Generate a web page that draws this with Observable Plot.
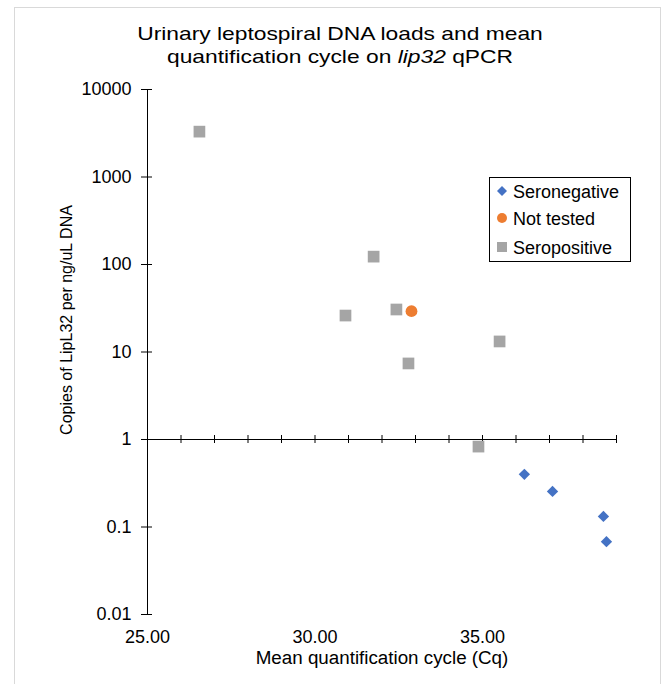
<!DOCTYPE html>
<html>
<head>
<meta charset="utf-8">
<script src="https://cdn.jsdelivr.net/npm/d3@7"></script>
<script src="https://cdn.jsdelivr.net/npm/@observablehq/plot@0.6"></script>
<style>
  html, body { margin: 0; padding: 0; background: #fff; }
  #wrap { position: relative; width: 665px; height: 684px; overflow: hidden; padding-top: 80px; box-sizing: border-box;
          font-family: "Liberation Sans", Arial, sans-serif; }
  #border { position: absolute; left: 14px; top: 7px; width: 647px; height: 700px; border: 1px solid #d9d9d9; box-sizing: border-box; }
  #title { position: absolute; left: 0; top: 22px; width: 680px; text-align: center; font-size: 19px; line-height: 23px; color: #000;
           transform: scaleX(1.2); transform-origin: 340px 0; }
  #legend { position: absolute; left: 489px; top: 177px; width: 142px; height: 85px; border: 1px solid #000; box-sizing: border-box; background: #fff; }
  .item { position: absolute; left: 0; height: 24px; font-size: 18px; line-height: 24px; color: #000; white-space: nowrap; }
  .item svg { position: absolute; left: 7px; top: 6px; }
  .item span { position: absolute; left: 23px; top: 0; }
  #plot svg { display: block; }
</style>
</head>
<body>
<div id="wrap">
  <div id="border"></div>
  <div id="title"></div>
  <div id="plot"></div>
  <div id="legend"></div>
</div>
<script>
// ---- data ----
const seriesNames = ["Seronegative", "Not tested", "Seropositive"];
const seriesColors = ["#4472C4", "#ED7D31", "#A5A5A5"];

const seronegativeCq   = [36.25, 37.09, 38.61, 38.70];
const seronegativeLoad = [0.40, 0.255, 0.132, 0.068];

const notTestedCq   = [32.88];
const notTestedLoad = [29.3];

const seropositiveCq   = [26.55, 31.75, 30.91, 32.43, 32.79, 35.51, 34.88];
const seropositiveLoad = [3300, 123, 26.1, 30.6, 7.4, 13.2, 0.83];

const xMinorTicks = [25, 26, 27, 28, 29, 30, 31, 32, 33, 34, 35, 36, 37, 38, 39];
const xLabelTicks = [25, 30, 35];
const yTicks = [0.01, 0.1, 1, 10, 100, 1000, 10000];
const xDomain = [25, 39];
const yDomain = [0.01, 10000];
const xCross = 1;      // horizontal axis crosses at y = 1
const yCross = 25;     // vertical axis at x = 25

const titleLine1 = "Urinary leptospiral DNA loads and mean";
const titleLine2a = "quantification cycle on ";
const titleLine2b = "lip32";
const titleLine2c = " qPCR";
const xTitle = "Mean quantification cycle (Cq)";
const yTitle = "Copies of LipL32 per ng/uL DNA";

// ---- tables ----
const rows = (xs, ys) => xs.map((x, i) => ({cq: x, load: ys[i]}));
const seronegative = rows(seronegativeCq, seronegativeLoad);
const notTested = rows(notTestedCq, notTestedLoad);
const seropositive = rows(seropositiveCq, seropositiveLoad);
const xTickRows = xMinorTicks.map(v => ({v, at: xCross}));
const yTickRows = yTicks.map(v => ({v, at: yCross}));

// ---- title ----
const t = document.getElementById("title");
t.append(titleLine1, document.createElement("br"), titleLine2a);
const it = document.createElement("i"); it.textContent = titleLine2b; t.append(it, titleLine2c);

// ---- chart ----
const axisColor = "#000";
const chart = Plot.plot({
  width: 665,
  height: 604,
  marginLeft: 147,
  marginRight: 49,
  marginTop: 9,
  marginBottom: 70,
  style: {fontFamily: "'Liberation Sans', Arial, sans-serif", fontSize: "18px", background: "transparent", overflow: "visible", color: "#000"},
  x: {domain: xDomain},
  y: {type: "log", domain: yDomain},
  marks: [
    Plot.ruleX([yCross], {stroke: axisColor, strokeWidth: 1}),
    Plot.ruleY([xCross], {stroke: axisColor, strokeWidth: 1}),
    Plot.ruleX(xTickRows, {x: "v", y1: "at", y2: "at", insetTop: -4, insetBottom: -4, stroke: axisColor}),
    Plot.ruleY(yTickRows, {y: "v", x1: "at", x2: "at", insetLeft: -6, insetRight: -5, stroke: axisColor}),
    Plot.axisY({ticks: yTicks, tickSize: 0, tickPadding: 16, tickFormat: d => String(d), label: null, fill: "#000"}),
    Plot.axisX({ticks: xLabelTicks, tickSize: 0, tickPadding: 16, tickFormat: d => d.toFixed(2), label: null, fill: "#000"}),
    Plot.text([xTitle], {frameAnchor: "bottom", dy: 49, fontSize: 18.8, text: d => d, fill: "#000"}),
    Plot.text([yTitle], {frameAnchor: "left", textAnchor: "middle", dx: -81, dy: -32, rotate: -90, fontSize: 16, text: d => d, fill: "#000"}),
    Plot.dot(seropositive, {x: "cq", y: "load", symbol: "square", r: 6.6, fill: seriesColors[2], stroke: "none"}),
    Plot.dot(notTested, {x: "cq", y: "load", symbol: "circle", r: 5.9, fill: seriesColors[1], stroke: "none"}),
    Plot.dot(seronegative, {x: "cq", y: "load", symbol: "diamond2", r: 5.1, fill: seriesColors[0], stroke: "none"})
  ]
});
document.getElementById("plot").append(chart);

// ---- legend ----
const legend = document.getElementById("legend");
const shapes = [
  '<polygon points="5,0 10,5 5,10 0,5"/>',
  '<circle cx="5" cy="5" r="5"/>',
  '<rect x="0" y="0" width="10" height="10"/>'
];
const rowTops = [2, 29, 58];
seriesNames.forEach((name, i) => {
  const d = document.createElement("div");
  d.className = "item";
  d.style.top = rowTops[i] + "px";
  d.innerHTML = `<svg width="10" height="10" viewBox="0 0 10 10" fill="${seriesColors[i]}">${shapes[i]}</svg>`;
  const s = document.createElement("span"); s.textContent = name; d.append(s);
  legend.append(d);
});
</script>
</body>
</html>
